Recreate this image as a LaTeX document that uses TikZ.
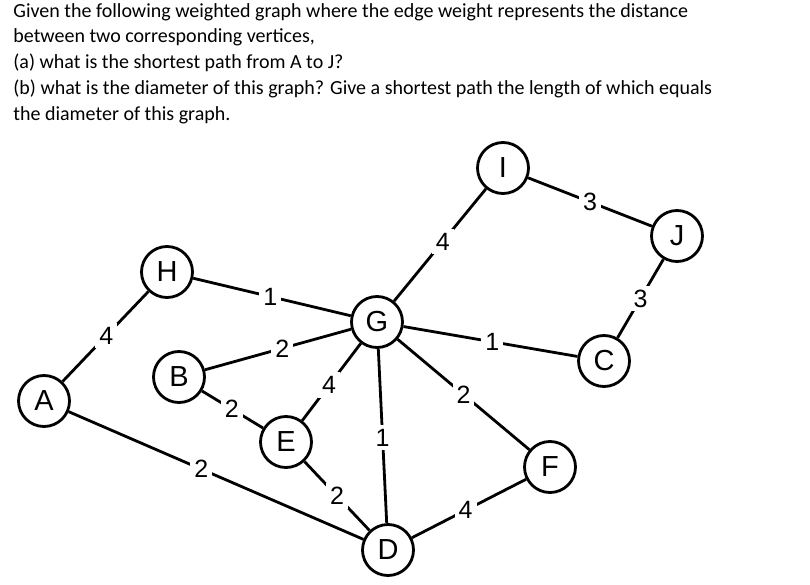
\documentclass[tikz,border=0pt]{standalone}
\usepackage{fontspec}
\setmainfont{Carlito}
\setsansfont{Liberation Sans}
\usetikzlibrary{positioning}

\begin{document}
\begin{tikzpicture}[x=1pt,y=-1pt,line width=2.8pt,
		main node/.style={circle,draw,minimum size=51pt,inner sep=0pt,font=\sffamily\fontsize{29}{29}\selectfont},
		weight/.style={fill=white,inner sep=4pt,font=\sffamily\fontsize{25}{25}\selectfont}]

	\useasboundingbox (0,0) rectangle (810,585);

	\node[anchor=north west,align=left,inner sep=0pt,font=\fontsize{20}{25.7}\selectfont] (question) at (12,2)
	{Given the following weighted graph where the edge weight represents the distance\\
	between two corresponding vertices,\\
	(a) what is the shortest path from A to J?\\
	(b) what is the diameter of this graph? Give a shortest path the length of which equals\\
	the diameter of this graph.};

	\node[main node] (A) at (44,401) {A};
	\node[main node] (H) at (167,272) {H};
	\node[main node] (B) at (179,377) {B};
	\node[main node] (E) at (286,442) {E};
	\node[main node] (G) at (377,322) {G};
	\node[main node] (D) at (388,550) {D};
	\node[main node] (F) at (550,467) {F};
	\node[main node] (C) at (604,361) {C};
	\node[main node] (I) at (503,168) {I};
	\node[main node] (J) at (677,236) {J};

	\path[every node/.style={weight}]
	(A) edge node[pos=0.51] {4} (H)
	(H) edge node[pos=0.49] {1} (G)
	(B) edge node[pos=0.53] {2} (G)
	(B) edge node[pos=0.49] {2} (E)
	(A) edge node[pos=0.45] {2} (D)
	(E) edge node[pos=0.46] {4} (G)
	(G) edge node[pos=0.51] {1} (D)
	(E) edge node[pos=0.50] {2} (D)
	(D) edge node[pos=0.47] {4} (F)
	(G) edge node[pos=0.50] {2} (F)
	(G) edge node[pos=0.51] {1} (C)
	(G) edge node[pos=0.53] {4} (I)
	(I) edge node[pos=0.50] {3} (J)
	(J) edge node[pos=0.50] {3} (C);

\end{tikzpicture}
\end{document}
